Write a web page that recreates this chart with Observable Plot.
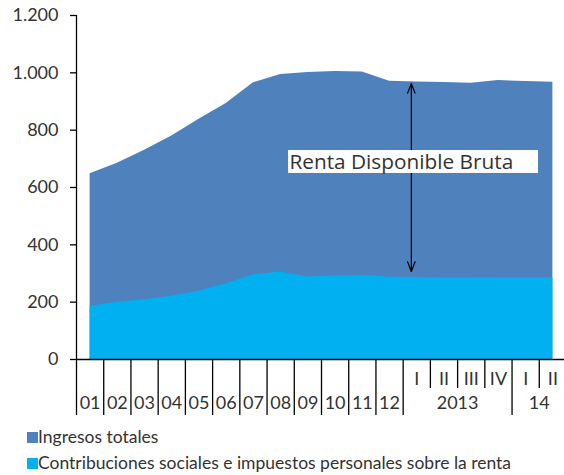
<!DOCTYPE html>
<html>
<head>
<meta charset="utf-8">
<script src="https://cdn.jsdelivr.net/npm/d3@7"></script>
<script src="https://cdn.jsdelivr.net/npm/@observablehq/plot@0.6"></script>
<style>
  html, body { margin: 0; padding: 0; background: #fff; }
  #chart svg { overflow: visible; display: block; }
  #legend { font-family: Lato, "Open Sans", sans-serif; font-size: 17.5px; color: #333; margin-left: 27px; margin-top: 4px; }
  #legend .row { height: 26px; line-height: 26px; display: flex; align-items: center; white-space: nowrap; }
  #legend .sw { width: 11px; height: 11px; display: inline-block; margin-right: 0px; }
</style>
</head>
<body>
<div id="chart"></div>
<div id="legend"></div>
<script>
// ---- data ----
const categories = ["01","02","03","04","05","06","07","08","09","10","11","12","I","II","III","IV","I","II"];
const rowLabels = ["01","02","03","04","05","06","07","08","09","10","11","12","","","","","",""];
const groupLabels = [
  {label: "2013", from: 12, to: 16},
  {label: "14", from: 16, to: 18}
];
const ingresosTotales = [648, 685, 730, 780, 838, 893, 965, 994, 1001, 1005, 1003, 971, 968, 966, 964, 973, 970, 967];
const contribuciones = [186, 200, 208, 221, 238, 264, 295, 305, 288, 292, 294, 287, 286, 284, 284, 285, 285, 285];
const yTicks = [0, 200, 400, 600, 800, 1000, 1200];
const seriesNames = ["Ingresos totales", "Contribuciones sociales e impuestos personales sobre la renta"];
const seriesColors = ["#4f81bd", "#00b0f0"];
const annotationText = "Renta Disponible Bruta";

// annotation placement (x in category units, y in data units)
const arrowX = 12.3, arrowTop = 963, arrowBottom = 307, arrowMid = 690;
const labelBox = {x1: 7.79, x2: 16.97, y1: 649, y2: 729};
const labelPos = {x: 7.82, y: 689};

const data = categories.map((c, i) => ({i: i + 0.5, cat: c, row: rowLabels[i], total: ingresosTotales[i], contrib: contribuciones[i]}));
const fullBoundaries = d3.range(0, 13).concat([16, 18]);
const quarterBoundaries = [13, 14, 15, 17];

const es = d3.formatLocale({decimal: ",", thousands: ".", grouping: [3], currency: ["", "€"]});
const fmt = es.format(",d");

const W = 564, H = 420;
const chart = Plot.plot({
  width: W,
  height: H,
  marginTop: 15,
  marginBottom: H - 359,
  marginLeft: 76,
  marginRight: 0,
  style: {fontFamily: "Lato, 'Open Sans', sans-serif", color: "#333", background: "#fff"},
  x: {domain: [0, 18], range: [76, 566], axis: null},
  y: {domain: [0, 1200], axis: null},
  marks: [
    Plot.areaY(data, {x: "i", y: "total", fill: seriesColors[0], curve: "linear"}),
    Plot.areaY(data, {x: "i", y: "contrib", fill: seriesColors[1], curve: "linear"}),
    // annotation
    Plot.arrow([0], {x1: () => arrowX, x2: () => arrowX, y1: () => arrowMid, y2: () => arrowTop, stroke: "#000", strokeWidth: 1.2, headLength: 13, headAngle: 42, bend: 0}),
    Plot.arrow([0], {x1: () => arrowX, x2: () => arrowX, y1: () => arrowMid, y2: () => arrowBottom, stroke: "#000", strokeWidth: 1.2, headLength: 13, headAngle: 42, bend: 0}),
    Plot.rect([labelBox], {x1: "x1", x2: "x2", y1: "y1", y2: "y2", fill: "#fff"}),
    Plot.text([annotationText], {x: () => labelPos.x, y: () => labelPos.y, text: d => d, textAnchor: "start", fontSize: 20.8, fill: "#333", fontFamily: "'Open Sans', sans-serif"}),
    // y axis
    Plot.axisY({ticks: yTicks, tickFormat: fmt, tickSize: 6, tickPadding: 12, fontSize: 18, stroke: "#000", strokeWidth: 1.3, label: null, fill: "#333"}),
    Plot.ruleX([0], {stroke: "#000", strokeWidth: 1.3}),
    Plot.ruleY([0], {stroke: "#000", strokeWidth: 1.3}),
    // x axis ticks
    Plot.axisX({ticks: fullBoundaries, tickSize: 56, tickFormat: () => "", stroke: "#000", strokeWidth: 1.3, label: null}),
    Plot.axisX({ticks: quarterBoundaries, tickSize: 29, tickFormat: () => "", stroke: "#000", strokeWidth: 1.3, label: null}),
    // x labels
    Plot.text(data.filter(d => d.i > 12), {x: "i", y: () => 0, text: "cat", dy: 20, fontSize: 18, fill: "#333"}),
    Plot.text(data.filter(d => d.row), {x: "i", y: () => 0, text: "row", dy: 44, fontSize: 18, fill: "#333"}),
    Plot.text(groupLabels, {x: d => (d.from + d.to) / 2, y: () => 0, text: "label", dy: 44, fontSize: 18, fill: "#333"})
  ]
});
document.getElementById("chart").appendChild(chart);

const legend = document.getElementById("legend");
seriesNames.forEach((name, k) => {
  const row = document.createElement("div");
  row.className = "row";
  const sw = document.createElement("span");
  sw.className = "sw";
  sw.style.background = seriesColors[k];
  row.appendChild(sw);
  const t = document.createElement("span");
  t.textContent = name;
  row.appendChild(t);
  legend.appendChild(row);
});
</script>
</body>
</html>
